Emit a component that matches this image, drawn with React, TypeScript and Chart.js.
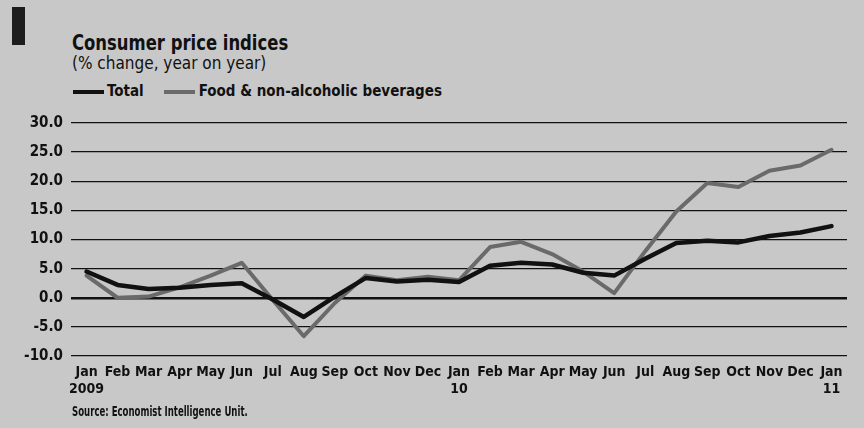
import React, { useEffect, useRef } from "react";
import { Chart, registerables } from "chart.js";

Chart.register(...registerables);

const months = ["Jan", "Feb", "Mar", "Apr", "May", "Jun", "Jul", "Aug", "Sep", "Oct", "Nov", "Dec",
  "Jan", "Feb", "Mar", "Apr", "May", "Jun", "Jul", "Aug", "Sep", "Oct", "Nov", "Dec", "Jan"];
const yearMarks: Record<number, string> = { 0: "2009", 12: "10", 24: "11" };

const totalValues = [4.5, 2.2, 1.5, 1.7, 2.2, 2.5, -0.3, -3.3, 0.2, 3.4, 2.8, 3.1,
  2.7, 5.5, 6.0, 5.7, 4.3, 3.8, 6.7, 9.4, 9.8, 9.5, 10.6, 11.2, 12.3];
const foodValues = [3.8, 0.0, 0.2, 1.8, 3.8, 6.0, -0.4, -6.6, -0.9, 3.8, 3.0, 3.6,
  3.0, 8.7, 9.6, 7.5, 4.5, 0.8, 8.0, 14.8, 19.7, 19.0, 21.8, 22.7, 25.4];

const yMin = -10;
const yMax = 30;
const yStep = 5;

const TITLE = "Consumer price indices";
const SUBTITLE = "(% change, year on year)";
const SERIES_NAMES = ["Total", "Food & non-alcoholic beverages"];
const SOURCE = "Source: Economist Intelligence Unit.";

const FONT = '"Liberation Sans Narrow", "DejaVu Sans Condensed", "Liberation Sans", sans-serif';
const TOTAL_COLOR = "#111111";
const FOOD_COLOR = "#6a6a6a";
const BG = "#c8c8c8";

export default function App() {
  const ref = useRef<HTMLCanvasElement | null>(null);

  useEffect(() => {
    document.body.style.margin = "0";
    const canvas = ref.current;
    if (!canvas) return;
    const labels = months.map((m, i) => (yearMarks[i] ? [m, yearMarks[i]] : m));
    const chart = new Chart(canvas, {
      type: "line",
      data: {
        labels,
        datasets: [
          {
            label: SERIES_NAMES[0],
            data: totalValues,
            borderColor: TOTAL_COLOR,
            borderWidth: 4.5,
            pointRadius: 0,
            tension: 0,
            borderJoinStyle: "round",
            borderCapStyle: "round",
          },
          {
            label: SERIES_NAMES[1],
            data: foodValues,
            borderColor: FOOD_COLOR,
            borderWidth: 4,
            pointRadius: 0,
            tension: 0,
            borderJoinStyle: "round",
            borderCapStyle: "round",
          },
        ],
      },
      options: {
        responsive: false,
        animation: false,
        layout: { padding: { top: 123, right: 17, left: 0, bottom: 0 } },
        plugins: { legend: { display: false }, tooltip: { enabled: false }, title: { display: false } },
        scales: {
          x: {
            type: "category",
            offset: true,
            grid: { display: false, drawTicks: false },
            border: { display: false },
            ticks: {
              autoSkip: false,
              maxRotation: 0,
              padding: 8,
              color: "#111",
              font: { family: FONT, size: 14, weight: "bold", lineHeight: 1.2 },
            },
            afterFit: (s: any) => { s.height = 72; },
          },
          y: {
            min: yMin,
            max: yMax,
            border: { display: false },
            grid: {
              color: "#111",
              drawTicks: false,
              lineWidth: (ctx: any) => (ctx.tick && ctx.tick.value === 0 ? 2.5 : 1.3),
            },
            ticks: {
              stepSize: yStep,
              padding: 8,
              color: "#111",
              font: { family: FONT, size: 15, weight: "bold" },
              callback: (v: any) => Number(v).toFixed(1),
            },
            afterFit: (s: any) => { s.width = 71; },
          },
        },
      },
    });
    return () => chart.destroy();
  }, []);

  const text: React.CSSProperties = { position: "absolute", fontFamily: FONT, color: "#111", whiteSpace: "nowrap", lineHeight: 1, transformOrigin: "left center" };

  return (
    <div style={{ position: "relative", width: 864, height: 428, background: BG, overflow: "hidden" }}>
      <div style={{ position: "absolute", left: 12, top: 7, width: 13, height: 38, background: "#1c1c1c" }} />
      <div style={{ ...text, left: 72, top: 33, fontSize: 21, fontWeight: "bold", transform: "scaleX(0.87)" }}>{TITLE}</div>
      <div style={{ ...text, left: 72, top: 55, fontSize: 17 }}>{SUBTITLE}</div>
      <div style={{ ...text, left: 73, top: 84, fontSize: 15, fontWeight: "bold", display: "flex", alignItems: "center" }}>
        <span style={{ display: "inline-block", width: 31, height: 4, background: TOTAL_COLOR, marginRight: 3 }} />
        <span>{SERIES_NAMES[0]}</span>
        <span style={{ display: "inline-block", width: 31, height: 4, background: FOOD_COLOR, marginLeft: 20, marginRight: 4 }} />
        <span>{SERIES_NAMES[1]}</span>
      </div>
      <canvas ref={ref} width={864} height={428} style={{ position: "absolute", left: 0, top: 0 }} />
      <div style={{ ...text, left: 72, top: 404, fontSize: 14, fontWeight: "bold", transform: "scaleX(0.68)" }}>{SOURCE}</div>
    </div>
  );
}
